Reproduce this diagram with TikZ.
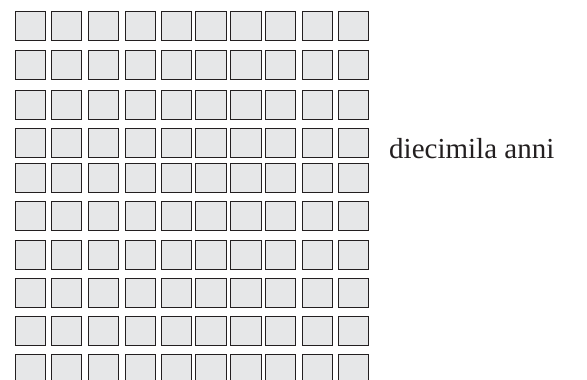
\documentclass[tikz,border=0pt]{standalone}
\usepackage{fontspec}
\setmainfont{Liberation Serif}
\definecolor{cellfill}{RGB}{230,231,232}
\definecolor{celldraw}{RGB}{35,31,32}
\begin{document}
\begin{tikzpicture}[x=1pt,y=1pt,
  cell/.style={fill=cellfill,draw=celldraw,line width=0.9pt}]
\useasboundingbox (0,0) rectangle (587,380);
\foreach \t in {11.7,50.7,90.7,128.7,163.3,201.7,240.7,278.3,316.7,354.3}{
  \foreach \x in {15,51,88.3,125,161,195.7,230.7,265,302,338.3}{
    \draw[cell] (\x,380-\t) rectangle ++(30.5,-29);
  }
}
\node[anchor=base west,inner sep=0pt,font=\fontsize{29}{34}\selectfont,text=celldraw] (label) at (389,221) {diecimila anni};
\end{tikzpicture}
\end{document}
